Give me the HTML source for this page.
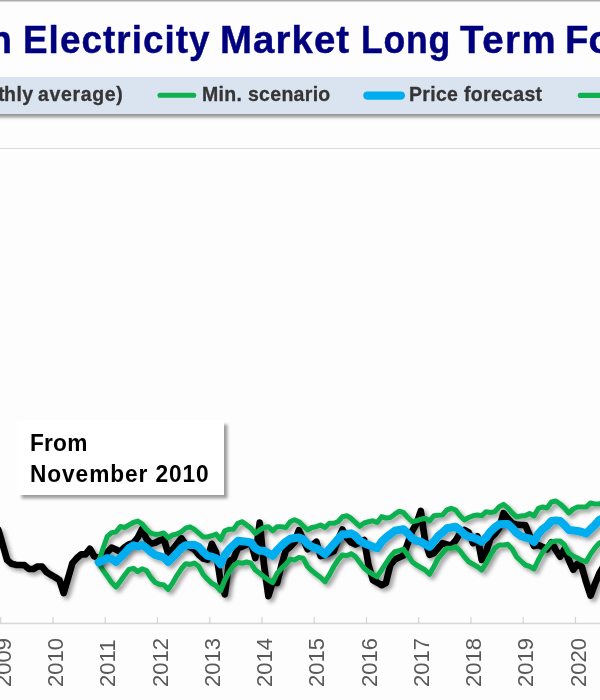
<!DOCTYPE html>
<html><head><meta charset="utf-8"><style>
html,body{margin:0;padding:0;}
body{width:600px;height:700px;overflow:hidden;background:#fdfdfd;position:relative;font-family:"Liberation Sans",sans-serif;}
.topline{position:absolute;left:0;top:0;width:600px;height:1px;background:#ababab;box-shadow:0 1px 1px #cfcfcf;}
.t{opacity:0.995;position:absolute;font-weight:bold;line-height:1;white-space:nowrap;transform-origin:0 0;}
.w{color:#00007f;-webkit-text-stroke:0.45px #00007f;}
.legend{position:absolute;left:-10px;top:77px;width:620px;height:37px;background:#dae3f0;box-shadow:0 4px 3px -0.5px rgba(0,0,0,.40);}
.lt{color:#353535;-webkit-text-stroke:0.3px #353535;}
.grid{position:absolute;left:0;top:148px;width:600px;height:1px;background:#dcdcdc;}
.note{position:absolute;left:16.5px;top:419.6px;width:207px;height:75.4px;background:#fff;box-shadow:3.5px 3.5px 3px rgba(0,0,0,.38);}
.nt{color:#000;}
svg{position:absolute;left:0;top:0;}
</style></head><body>
<div class="topline"></div>
<div class="t w" style="left:-10.8px;top:19.9px;font-size:39.6px;letter-spacing:0.0px;transform:scaleX(0.95)">n</div>
<div class="t w" style="left:23.1px;top:19.9px;font-size:39.6px;letter-spacing:1.14px;transform:scaleX(0.93)">Electricity</div>
<div class="t w" style="left:220.2px;top:19.9px;font-size:39.6px;letter-spacing:1.113px;transform:scaleX(0.97)">Market</div>
<div class="t w" style="left:361.3px;top:19.9px;font-size:39.6px;letter-spacing:0.815px;transform:scaleX(0.9)">Long</div>
<div class="t w" style="left:459.5px;top:19.9px;font-size:39.6px;letter-spacing:1.581px;transform:scaleX(0.97)">Term</div>
<div class="t w" style="left:564.5px;top:19.9px;font-size:39.6px;letter-spacing:0.0px;transform:scaleX(0.97)">Fo</div>
<div class="legend"></div>
<div class="t lt" style="left:-2.2px;top:84.3px;font-size:20.5px;letter-spacing:0.0px;transform:scaleX(0.95)">t</div>
<div class="t lt" style="left:4.3px;top:84.3px;font-size:20.5px;letter-spacing:0.526px;transform:scaleX(0.95)">hly</div>
<div class="t lt" style="left:38.3px;top:84.3px;font-size:20.5px;letter-spacing:0.692px;transform:scaleX(0.95)">average)</div>
<div class="t lt" style="left:202.3px;top:84.3px;font-size:20.5px;letter-spacing:0.333px;transform:scaleX(0.95)">Min. scenario</div>
<div class="t lt" style="left:408.6px;top:84.3px;font-size:20.5px;letter-spacing:0.34px;transform:scaleX(0.95)">Price forecast</div>
<div class="grid"></div>
<div class="note"></div>
<div class="t nt" style="left:30.2px;top:431.65px;font-size:23.4px;letter-spacing:0.206px;transform:scaleX(0.97)">From</div>
<div class="t nt" style="left:30.2px;top:462.5px;font-size:23.4px;letter-spacing:0.94px;transform:scaleX(0.97)">November 2010</div>
<svg width="600" height="700" viewBox="0 0 600 700" font-family="Liberation Sans, sans-serif">
<defs><filter id="sh" x="-5%" y="-20%" width="110%" height="150%"><feGaussianBlur in="SourceAlpha" stdDeviation="2.2"/><feOffset dx="3" dy="3"/><feComponentTransfer><feFuncA type="linear" slope="0.38"/></feComponentTransfer><feMerge><feMergeNode/><feMergeNode in="SourceGraphic"/></feMerge></filter></defs>
<line x1="160" y1="95.3" x2="193.7" y2="95.3" stroke="#0eb04f" stroke-width="5.1" stroke-linecap="round"/>
<line x1="367.3" y1="95.6" x2="400.9" y2="95.6" stroke="#00adee" stroke-width="8.1" stroke-linecap="round"/>
<line x1="580.3" y1="95.4" x2="640" y2="95.3" stroke="#0eb04f" stroke-width="5.1" stroke-linecap="round"/>
<rect x="0" y="622.7" width="600" height="1.5" fill="#d8d8d8"/>
<rect x="0.10" y="617" width="1.2" height="6.5" fill="#d4d4d4"/><rect x="52.35" y="617" width="1.2" height="6.5" fill="#d4d4d4"/><rect x="104.60" y="617" width="1.2" height="6.5" fill="#d4d4d4"/><rect x="156.85" y="617" width="1.2" height="6.5" fill="#d4d4d4"/><rect x="209.10" y="617" width="1.2" height="6.5" fill="#d4d4d4"/><rect x="261.35" y="617" width="1.2" height="6.5" fill="#d4d4d4"/><rect x="313.60" y="617" width="1.2" height="6.5" fill="#d4d4d4"/><rect x="365.85" y="617" width="1.2" height="6.5" fill="#d4d4d4"/><rect x="418.10" y="617" width="1.2" height="6.5" fill="#d4d4d4"/><rect x="470.35" y="617" width="1.2" height="6.5" fill="#d4d4d4"/><rect x="522.60" y="617" width="1.2" height="6.5" fill="#d4d4d4"/><rect x="574.85" y="617" width="1.2" height="6.5" fill="#d4d4d4"/><rect x="627.10" y="617" width="1.2" height="6.5" fill="#d4d4d4"/>
<g opacity="0.995"><text transform="translate(10.78,686.9) rotate(-90)" font-size="22" fill="#595959">2009</text><text transform="translate(63.03,686.9) rotate(-90)" font-size="22" fill="#595959">2010</text><text transform="translate(115.28,686.9) rotate(-90)" font-size="22" fill="#595959">2011</text><text transform="translate(167.53,686.9) rotate(-90)" font-size="22" fill="#595959">2012</text><text transform="translate(219.78,686.9) rotate(-90)" font-size="22" fill="#595959">2013</text><text transform="translate(272.03,686.9) rotate(-90)" font-size="22" fill="#595959">2014</text><text transform="translate(324.28,686.9) rotate(-90)" font-size="22" fill="#595959">2015</text><text transform="translate(376.53,686.9) rotate(-90)" font-size="22" fill="#595959">2016</text><text transform="translate(428.78,686.9) rotate(-90)" font-size="22" fill="#595959">2017</text><text transform="translate(481.03,686.9) rotate(-90)" font-size="22" fill="#595959">2018</text><text transform="translate(533.28,686.9) rotate(-90)" font-size="22" fill="#595959">2019</text><text transform="translate(585.53,686.9) rotate(-90)" font-size="22" fill="#595959">2020</text><text transform="translate(637.78,686.9) rotate(-90)" font-size="22" fill="#595959">2021</text></g>
<g fill="none" stroke-linejoin="round" stroke-linecap="round">
<path filter="url(#sh)" d="M-1.6,530.0 L2.8,545.0 L7.1,560.0 L11.5,563.8 L15.8,564.8 L20.2,565.0 L24.5,565.2 L28.9,569.0 L33.3,569.0 L37.6,566.5 L42.0,566.5 L46.3,571.9 L50.7,574.8 L55.0,577.1 L59.4,580.0 L63.7,593.1 L68.1,578.0 L72.4,563.1 L76.8,558.1 L81.2,554.4 L85.5,554.4 L89.9,548.8 L94.2,556.2 L98.6,558.1 L102.9,555.5 L107.3,552.2 L111.6,547.7 L116.0,549.5 L120.3,551.7 L124.7,547.2 L129.0,544.4 L133.4,542.9 L137.8,537.5 L142.1,529.0 L146.5,539.0 L150.8,543.7 L155.2,542.8 L159.5,540.5 L163.9,539.0 L168.2,553.8 L172.6,549.5 L176.9,544.0 L181.3,538.2 L185.7,544.5 L190.0,547.0 L194.4,549.4 L198.7,554.7 L203.1,558.4 L207.4,559.5 L211.8,543.8 L216.1,552.4 L220.5,581.0 L224.8,594.3 L229.2,561.0 L233.5,559.0 L237.9,548.0 L242.3,546.5 L246.6,544.4 L251.0,542.5 L255.3,558.1 L259.7,522.6 L264.0,565.0 L268.4,596.1 L272.7,582.0 L277.1,583.0 L281.4,565.5 L285.8,550.5 L290.2,546.8 L294.5,542.0 L298.9,530.1 L303.2,539.4 L307.6,549.2 L311.9,545.6 L316.3,541.8 L320.6,556.1 L325.0,555.0 L329.3,553.1 L333.7,551.2 L338.0,540.0 L342.4,529.5 L346.8,537.5 L351.1,542.5 L355.5,544.4 L359.8,542.5 L364.2,540.1 L368.5,565.0 L372.9,580.0 L377.2,582.5 L381.6,585.2 L385.9,583.0 L390.3,565.0 L394.7,559.6 L399.0,557.5 L403.4,555.4 L407.7,543.5 L412.1,531.2 L416.4,523.8 L420.8,511.0 L425.1,541.0 L429.5,554.8 L433.8,553.1 L438.2,548.1 L442.5,543.1 L446.9,544.4 L451.3,545.4 L455.6,540.6 L460.0,533.1 L464.3,530.0 L468.7,532.5 L473.0,543.1 L477.4,536.4 L481.7,559.9 L486.1,552.0 L490.4,538.5 L494.8,534.0 L499.2,528.0 L503.5,513.1 L507.9,518.5 L512.2,523.0 L516.6,524.7 L520.9,525.0 L525.3,525.2 L529.6,535.0 L534.0,546.0 L538.3,545.0 L542.7,547.1 L547.0,549.3 L551.4,542.3 L555.8,550.0 L560.1,556.6 L564.5,548.8 L568.8,560.0 L573.2,569.7 L577.5,563.7 L581.9,567.0 L586.2,582.3 L590.6,595.6 L594.9,584.0 L599.3,573.5 L603.7,566.0 L608.0,560.0" stroke="#000" stroke-width="6.7"/>
<path filter="url(#sh)" d="M98.6,563.1 L102.9,570.0 L107.3,576.2 L111.6,582.5 L116.0,586.9 L120.3,581.2 L124.7,575.0 L129.0,569.4 L133.4,568.4 L137.8,571.6 L142.1,568.8 L146.5,570.6 L150.8,577.5 L155.2,582.5 L159.5,584.4 L163.9,585.0 L168.2,589.4 L172.6,583.1 L176.9,575.6 L181.3,568.8 L185.7,563.8 L190.0,564.4 L194.4,563.1 L198.7,566.2 L203.1,574.4 L207.4,579.2 L211.8,583.3 L216.1,585.8 L220.5,590.8 L224.8,580.0 L229.2,571.7 L233.5,565.8 L237.9,562.5 L242.3,563.3 L246.6,562.0 L251.0,563.3 L255.3,570.0 L259.7,573.3 L264.0,576.7 L268.4,580.0 L272.7,582.5 L277.1,573.3 L281.4,568.3 L285.8,564.2 L290.2,559.2 L294.5,560.0 L298.9,557.5 L303.2,558.3 L307.6,566.7 L311.9,570.8 L316.3,574.2 L320.6,577.5 L325.0,581.7 L329.3,575.0 L333.7,566.7 L338.0,560.0 L342.4,555.0 L346.8,555.8 L351.1,553.7 L355.5,556.7 L359.8,562.5 L364.2,568.3 L368.5,571.7 L372.9,574.2 L377.2,576.7 L381.6,570.0 L385.9,563.3 L390.3,556.7 L394.7,551.7 L399.0,550.8 L403.4,549.2 L407.7,555.0 L412.1,561.7 L416.4,565.0 L420.8,567.5 L425.1,570.0 L429.5,574.2 L433.8,566.7 L438.2,558.3 L442.5,553.3 L446.9,548.3 L451.3,548.3 L455.6,546.7 L460.0,550.8 L464.3,556.7 L468.7,561.7 L473.0,564.2 L477.4,566.7 L481.7,570.0 L486.1,563.3 L490.4,555.0 L494.8,548.3 L499.2,545.0 L503.5,545.0 L507.9,544.4 L512.2,549.0 L516.6,557.0 L520.9,561.0 L525.3,565.0 L529.6,566.4 L534.0,569.0 L538.3,560.0 L542.7,552.0 L547.0,547.0 L551.4,542.0 L555.8,541.0 L560.1,541.0 L564.5,545.0 L568.8,553.0 L573.2,556.0 L577.5,558.0 L581.9,560.4 L586.2,561.6 L590.6,554.0 L594.9,548.0 L599.3,543.0 L603.7,541.0 L608.0,539.0" stroke="#0eb04f" stroke-width="5.1"/>
<path filter="url(#sh)" d="M98.6,561.9 L102.9,548.8 L107.3,536.4 L111.6,532.7 L116.0,532.0 L120.3,526.6 L124.7,527.5 L129.0,525.0 L133.4,522.5 L137.8,521.1 L142.1,523.8 L146.5,529.4 L150.8,533.1 L155.2,534.4 L159.5,534.0 L163.9,533.1 L168.2,537.8 L172.6,535.0 L176.9,534.0 L181.3,531.9 L185.7,528.1 L190.0,526.9 L194.4,529.4 L198.7,533.1 L203.1,536.9 L207.4,537.0 L211.8,535.8 L216.1,534.2 L220.5,539.7 L224.8,530.8 L229.2,529.2 L233.5,529.2 L237.9,523.3 L242.3,521.7 L246.6,525.0 L251.0,528.3 L255.3,533.3 L259.7,530.0 L264.0,527.5 L268.4,526.7 L272.7,530.8 L277.1,526.7 L281.4,526.7 L285.8,527.5 L290.2,521.7 L294.5,519.7 L298.9,521.7 L303.2,525.8 L307.6,530.0 L311.9,527.5 L316.3,526.7 L320.6,525.0 L325.0,527.5 L329.3,523.3 L333.7,523.3 L338.0,521.7 L342.4,516.7 L346.8,515.8 L351.1,518.3 L355.5,522.5 L359.8,526.3 L364.2,523.0 L368.5,521.7 L372.9,520.8 L377.2,522.5 L381.6,516.7 L385.9,518.0 L390.3,517.5 L394.7,514.2 L399.0,511.3 L403.4,512.5 L407.7,517.5 L412.1,521.7 L416.4,520.8 L420.8,519.2 L425.1,518.3 L429.5,520.8 L433.8,515.8 L438.2,515.3 L442.5,515.0 L446.9,510.0 L451.3,508.3 L455.6,510.0 L460.0,515.8 L464.3,520.0 L468.7,517.5 L473.0,515.8 L477.4,515.0 L481.7,515.8 L486.1,511.7 L490.4,512.5 L494.8,511.7 L499.2,506.7 L503.5,504.4 L507.9,508.0 L512.2,513.0 L516.6,517.0 L520.9,516.0 L525.3,515.6 L529.6,513.6 L534.0,516.0 L538.3,508.4 L542.7,507.0 L547.0,508.0 L551.4,502.0 L555.8,501.0 L560.1,504.0 L564.5,508.0 L568.8,513.0 L573.2,509.0 L577.5,507.0 L581.9,507.0 L586.2,507.0 L590.6,503.0 L594.9,504.0 L599.3,504.0 L603.7,502.0 L608.0,500.0" stroke="#0eb04f" stroke-width="5.1"/>
<path filter="url(#sh)" d="M98.6,562.2 L102.9,560.6 L107.3,558.1 L111.6,558.8 L116.0,561.9 L120.3,557.5 L124.7,553.1 L129.0,548.1 L133.4,545.3 L137.8,546.5 L142.1,545.0 L146.5,548.1 L150.8,551.9 L155.2,555.0 L159.5,556.2 L163.9,557.5 L168.2,561.9 L172.6,557.5 L176.9,553.1 L181.3,548.1 L185.7,545.2 L190.0,545.0 L194.4,544.8 L198.7,546.9 L203.1,551.9 L207.4,555.8 L211.8,556.7 L216.1,558.3 L220.5,564.2 L224.8,555.0 L229.2,549.2 L233.5,545.0 L237.9,540.8 L242.3,541.3 L246.6,541.7 L251.0,542.5 L255.3,548.3 L259.7,550.8 L264.0,550.8 L268.4,553.3 L272.7,555.8 L277.1,550.0 L281.4,545.8 L285.8,541.7 L290.2,538.7 L294.5,538.0 L298.9,537.5 L303.2,539.2 L307.6,544.2 L311.9,546.7 L316.3,548.3 L320.6,550.8 L325.0,554.2 L329.3,549.2 L333.7,544.2 L338.0,539.2 L342.4,534.2 L346.8,534.2 L351.1,533.3 L355.5,535.8 L359.8,540.8 L364.2,543.3 L368.5,545.0 L372.9,546.7 L377.2,548.3 L381.6,541.7 L385.9,537.5 L390.3,534.2 L394.7,530.8 L399.0,530.0 L403.4,529.2 L407.7,533.3 L412.1,538.3 L416.4,540.8 L420.8,541.7 L425.1,544.2 L429.5,546.7 L433.8,541.7 L438.2,535.8 L442.5,532.5 L446.9,528.3 L451.3,527.5 L455.6,526.7 L460.0,530.0 L464.3,534.2 L468.7,536.7 L473.0,537.5 L477.4,539.2 L481.7,541.7 L486.1,537.5 L490.4,531.7 L494.8,527.5 L499.2,524.2 L503.5,524.0 L507.9,524.0 L512.2,528.0 L516.6,533.0 L520.9,536.0 L525.3,537.6 L529.6,538.4 L534.0,542.0 L538.3,534.0 L542.7,529.0 L547.0,526.0 L551.4,521.0 L555.8,520.4 L560.1,521.0 L564.5,525.0 L568.8,530.0 L573.2,530.4 L577.5,531.0 L581.9,532.0 L586.2,533.6 L590.6,529.0 L594.9,525.0 L599.3,520.0 L603.7,518.0 L608.0,516.0" stroke="#00adee" stroke-width="8"/>
</g>
</svg>
</body></html>
